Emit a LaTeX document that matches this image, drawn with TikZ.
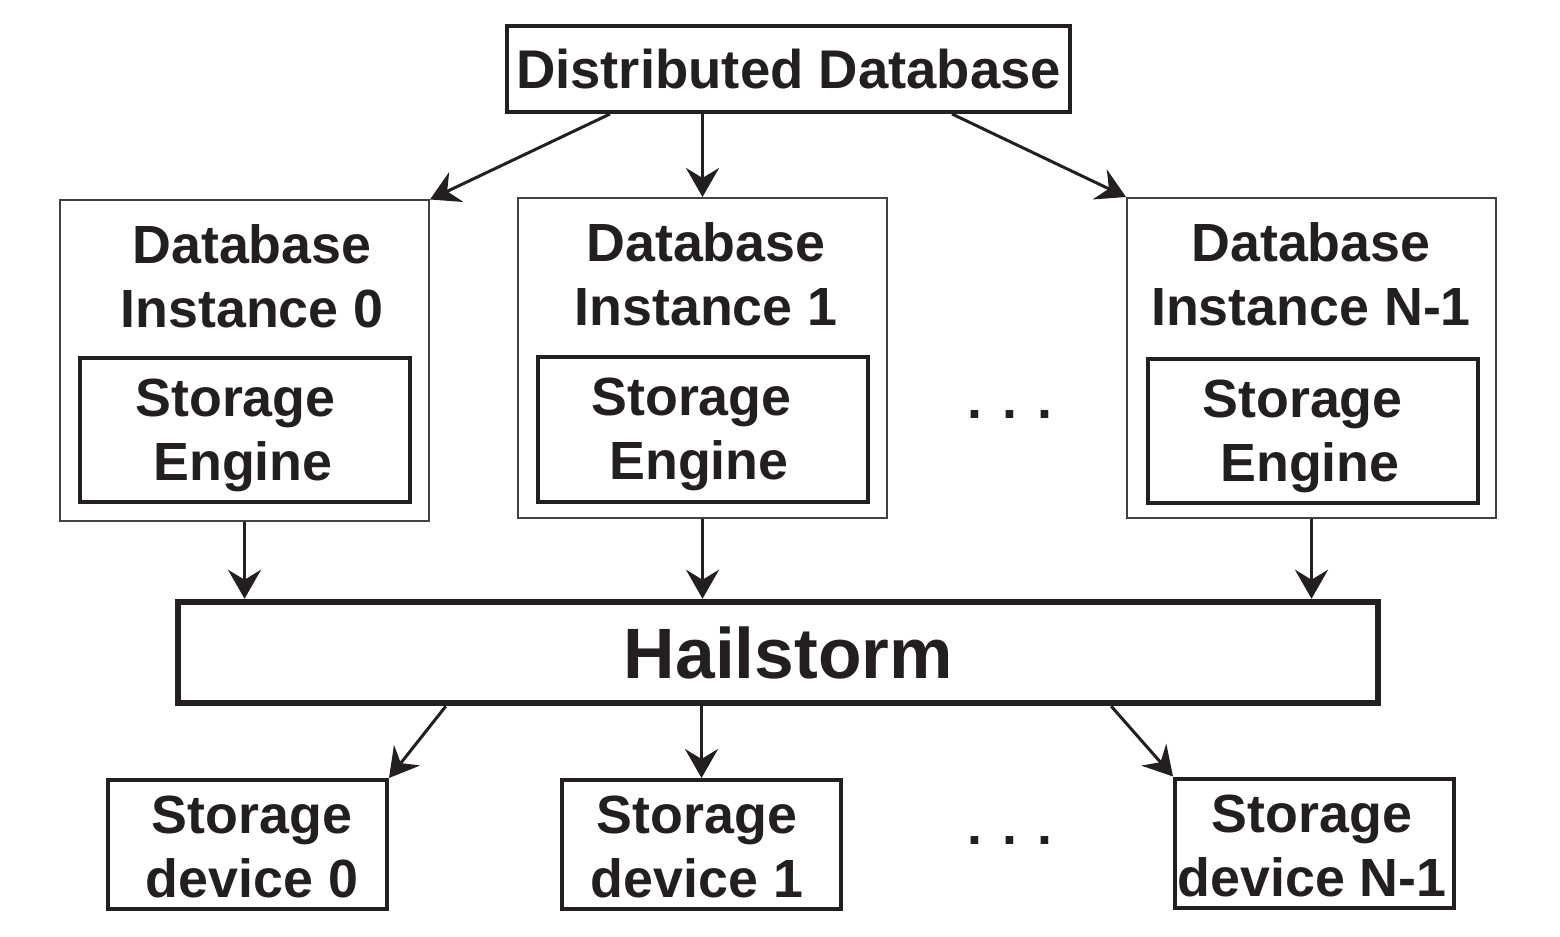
\documentclass[tikz,border=0pt]{standalone}
\usepackage{fontspec}
\setmainfont{Liberation Sans}
\usetikzlibrary{arrows.meta,positioning}
\definecolor{ink}{HTML}{231F20}

\begin{document}
\begin{tikzpicture}[inner sep=0mm,
  every node/.style={font=\bfseries\fontsize{15.3}{18.2}\selectfont, align=center, text=ink},
  dbbox/.style={draw=ink, line width=0.04cm, minimum width=5.63cm, minimum height=0.86cm,
    font=\bfseries\fontsize{15.5}{18.2}\selectfont},
  instbox/.style={draw=ink!85, line width=0.02cm, minimum width=3.69cm, minimum height=3.2cm},
  enginebox/.style={draw=ink, line width=0.04cm, minimum width=3.3cm, minimum height=1.44cm},
  hailbox/.style={draw=ink, line width=0.065cm, minimum width=12cm, minimum height=1.01cm},
  devbox/.style={draw=ink, line width=0.04cm, minimum width=2.79cm, minimum height=1.29cm},
  link/.style={draw=ink, line width=0.03cm, -{Stealth[length=0.29cm, width=0.33cm, inset=0.1cm]}}
]

 \useasboundingbox (0,0) rectangle (15.6,-9.36);

 % top
 \node[dbbox] (dd) at (7.885,-0.69) {Distributed Database};

 % database instances
 \node[instbox] (inst0) at (2.445,-3.605) {};
 \node[instbox] (inst1) at (7.025,-3.58) {};
 \node[instbox] (instN) at (13.115,-3.58) {};

 \node (lab0) at (2.52,-2.765) {Database\\Instance 0};
 \node (lab1) at (7.06,-2.745) {Database\\Instance 1};
 \node (labN) at (13.11,-2.745) {Database\\Instance N-1};

 \node[enginebox] (eng0) at (2.45,-4.30) {};
 \node[enginebox] (eng1) at (7.025,-4.295) {};
 \node[enginebox] (engN) at (13.13,-4.31) {};

 \node (engtxt0) at (2.43,-4.35) {Storage\hphantom{.}\\Engine};
 \node (engtxt1) at (6.99,-4.34) {Storage\hphantom{.}\\Engine};
 \node (engtxtN) at (13.10,-4.36) {Storage\hphantom{.}\\Engine};

 \node (dotsA) at (10.10,-4.14) {.\hspace{2mm}.\hspace{2mm}.};

 % middle layer
 \node[hailbox] (hail) at (7.78,-6.525) {};
 \node[font=\bfseries\fontsize{20.3}{24}\selectfont] (hailtxt) at (7.885,-6.53) {Hailstorm};

 % devices
 \node[devbox] (dev0) at (2.475,-8.445) {};
 \node[devbox] (dev1) at (7.015,-8.445) {};
 \node[devbox] (devN) at (13.145,-8.43) {};

 \node (devtxt0) at (2.52,-8.47) {Storage\\device 0};
 \node (devtxt1) at (6.97,-8.47) {Storage\\device 1};
 \node (devtxtN) at (13.12,-8.455) {Storage\\device N-1};

 \node (dotsB) at (10.10,-8.40) {.\hspace{2mm}.\hspace{2mm}.};

 % arrows
 \draw[link] ([xshift=1.05cm]dd.south west) -- (inst0.north east);
 \draw[link] (dd.south -| inst1.north) -- (inst1.north);
 \draw[link] ([xshift=-1.2cm]dd.south east) -- (instN.north west);

 \draw[link] (inst0.south) -- (inst0.south |- hail.north);
 \draw[link] (inst1.south) -- (inst1.south |- hail.north);
 \draw[link] (instN.south) -- (instN.south |- hail.north);

 \draw[link] ([xshift=2.71cm]hail.south west) -- (dev0.north east);
 \draw[link] (hail.south -| dev1.north) -- (dev1.north);
 \draw[link] ([xshift=-2.7cm]hail.south east) -- (devN.north west);

\end{tikzpicture}
\end{document}
